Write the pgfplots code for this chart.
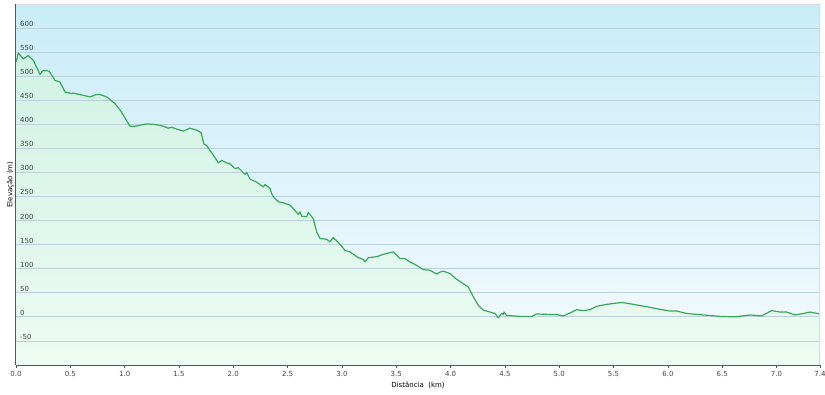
\documentclass[border=0pt]{standalone}
\usepackage{fontspec}
\setmainfont{DejaVu Sans}
\usepackage{pgfplots}
\usepackage{pgfplotstable}
\pgfplotsset{compat=1.18}
\definecolor{bgtop}{HTML}{C9ECF9}
\definecolor{bgbot}{HTML}{F4FBFD}
\definecolor{filltop}{HTML}{D0F2E4}
\definecolor{fillbot}{HTML}{EDFCF2}
\definecolor{linegreen}{HTML}{38A85A}
\definecolor{gridc}{HTML}{BCD2DA}
\definecolor{axisc}{HTML}{555555}
\definecolor{textc}{HTML}{444444}
\definecolor{framec}{HTML}{DADADA}
\pgfplotstableread{
x y
0.000 530
0.006 533
0.021 548
0.067 536
0.113 543
0.159 533
0.221 504
0.246 511
0.283 512
0.306 510
0.329 502
0.359 491
0.405 488
0.451 467
0.513 464
0.527 465
0.681 457
0.743 462
0.773 462
0.835 457
0.911 443
0.957 430
0.988 419
1.049 396
1.095 396
1.203 401
1.264 400
1.325 398
1.356 396
1.402 392
1.433 394
1.479 390
1.540 386
1.601 392
1.663 388
1.703 383
1.730 359
1.755 356
1.816 336
1.862 320
1.893 325
1.939 320
1.970 318
2.016 308
2.046 310
2.077 303
2.108 296
2.123 300
2.154 286
2.215 280
2.276 270
2.292 275
2.338 267
2.353 256
2.368 250
2.414 239
2.460 237
2.522 232
2.568 221
2.598 213
2.614 218
2.630 209
2.676 208
2.690 217
2.736 204
2.768 176
2.798 163
2.860 161
2.890 156
2.920 165
2.982 151
3.028 138
3.074 135
3.136 125
3.197 119
3.212 114
3.243 123
3.320 125
3.381 130
3.473 135
3.488 132
3.534 121
3.580 121
3.626 114
3.688 107
3.749 98
3.810 97
3.872 89
3.902 93
3.933 95
3.994 90
4.056 78
4.117 69
4.163 62
4.209 42
4.255 24
4.301 14
4.363 10
4.409 7
4.439 -2
4.470 7
4.485 5
4.491 10
4.516 3
4.639 1
4.746 1
4.792 6
4.915 5
4.977 5
5.037 2
5.099 8
5.161 15
5.221 13
5.283 15
5.345 22
5.437 26
5.575 30
5.682 26
5.805 21
5.897 17
6.019 12
6.081 12
6.173 7
6.326 4
6.479 1
6.618 0
6.756 4
6.863 2
6.955 13
7.032 10
7.093 10
7.170 4
7.246 7
7.308 10
7.400 6
}\elev
\begin{document}
\begin{tikzpicture}
\begin{axis}[
  name=ax,
  set layers,
  scale only axis,
  width=804pt, height=361pt,
  xmin=0, xmax=7.4, ymin=-100, ymax=650,
  axis lines=left,
  axis line style={-, draw=axisc, line width=1pt},
  axis background/.style={shade, top color=bgtop, bottom color=bgbot},
  font=\fontsize{7}{8}\selectfont,
  /pgf/number format/assume math mode=true,
  xtick={0,0.5,...,7.0,7.4},
  xticklabel style={/pgf/number format/.cd, fixed, precision=1, fixed zerofill},
  xtick align=outside,
  major tick length=3pt,
  xtick style={draw=axisc, line width=0.6pt},
  ytick={-50,0,...,600},
  ytick style={draw=none},
  yticklabel style={anchor=south west, xshift=4.5pt, yshift=0.3pt, inner sep=1pt},
  ymajorgrids,
  major grid style={draw=gridc, line width=0.8pt},
  tick label style={text=textc},
  xlabel={Distância~~(km)},
  ylabel={Elevação (m)},
  label style={text=textc},
  every axis x label/.style={at={(axis description cs:0.5,0)}, anchor=north, yshift=-13pt},
  every axis y label/.style={at={(axis description cs:0,0.5)}, rotate=90, anchor=south, inner sep=2pt},
  clip=true,
]
\addplot[on layer=axis background, draw=none, shade, top color=filltop, bottom color=fillbot]
  table[x=x, y=y] {\elev} -- (axis cs:7.4,-100) -- (axis cs:0,-100) -- cycle;
\addplot[linegreen, line width=1.2pt, line join=round, mark=none] table[x=x, y=y] {\elev};
\draw[framec, line width=1pt] (rel axis cs:0,1) -- (rel axis cs:1,1) -- (rel axis cs:1,0);
\end{axis}
\pgfresetboundingbox
\path (ax.south west) +(-16pt,-29pt) +(809pt,365pt);
\end{tikzpicture}
\end{document}
